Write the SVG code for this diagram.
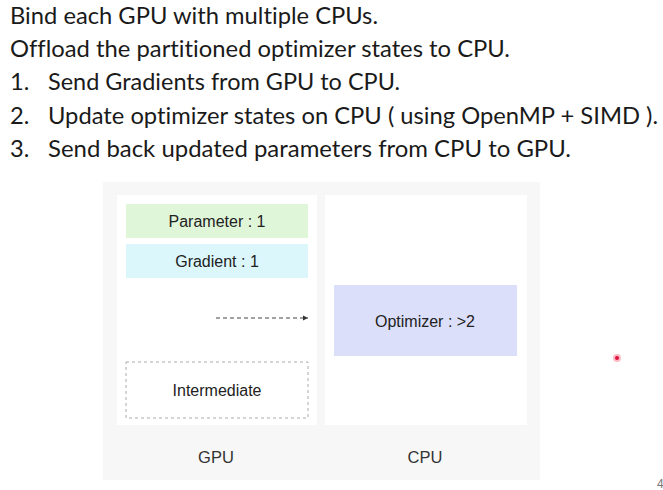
<svg xmlns="http://www.w3.org/2000/svg" width="663" height="490" viewBox="0 0 663 490">
<defs>
<style>
.t{font-family:Lato,"Open Sans","Liberation Sans",sans-serif;font-size:23.7px;fill:#1a1a1a;font-variant-ligatures:none}
.l{font-family:"Liberation Sans",Arial,sans-serif;font-size:16px;fill:#222;text-anchor:middle}
.cap{font-family:"Liberation Sans",Arial,sans-serif;font-size:16.5px;fill:#333;text-anchor:middle}
</style>
<marker id="ah" markerWidth="6" markerHeight="6" refX="5" refY="3" orient="auto" markerUnits="userSpaceOnUse">
<path d="M0,0.5 L5,3 L0,5.5 Z" fill="#333"/>
</marker>
</defs>
<rect width="663" height="490" fill="#ffffff"/>
<g id="title">
<text class="t" x="10" y="23.5" textLength="368" lengthAdjust="spacingAndGlyphs">Bind each GPU with multiple CPUs.</text>
<text class="t" x="10" y="56.5" textLength="500" lengthAdjust="spacingAndGlyphs">Offload the partitioned optimizer states to CPU.</text>
<text class="t" x="10" y="90">1.</text>
<text class="t" x="48" y="90" textLength="352" lengthAdjust="spacingAndGlyphs">Send Gradients from GPU to CPU.</text>
<text class="t" x="10" y="124">2.</text>
<text class="t" x="48" y="124" textLength="610" lengthAdjust="spacingAndGlyphs">Update optimizer states on CPU ( using OpenMP + SIMD ).</text>
<text class="t" x="10" y="157">3.</text>
<text class="t" x="48" y="157" textLength="523" lengthAdjust="spacingAndGlyphs">Send back updated parameters from CPU to GPU.</text>
</g>
<g id="panel">
<rect x="103" y="182" width="437" height="298" fill="#f7f7f7"/>
</g>
<g id="gpu">
<rect x="117" y="195" width="200" height="230" fill="#ffffff"/>
<text class="cap" x="216" y="463">GPU</text>
</g>
<g id="cpu">
<rect x="325" y="195" width="202" height="230" fill="#ffffff"/>
<text class="cap" x="425" y="463">CPU</text>
</g>
<g id="parameter">
<rect x="126" y="204" width="182" height="34" fill="#e0f6d9"/>
<text class="l" x="217" y="227">Parameter : 1</text>
</g>
<g id="gradient">
<rect x="126" y="244" width="182" height="34" fill="#dbf7fc"/>
<text class="l" x="217" y="267">Gradient : 1</text>
</g>
<g id="optimizer">
<rect x="334" y="285" width="183" height="71" fill="#dcdffa"/>
<text class="l" x="425" y="327">Optimizer : &gt;2</text>
</g>
<g id="intermediate">
<rect x="126" y="362" width="182" height="56" fill="none" stroke="#aaa" stroke-width="1" stroke-dasharray="3,3"/>
<text class="l" x="217" y="396">Intermediate</text>
</g>
<g id="connectors">
<line x1="216" y1="318" x2="308" y2="318" stroke="#444" stroke-width="1" stroke-dasharray="4,3" marker-end="url(#ah)"/>
</g>
<g id="pointer">
<circle cx="617" cy="358" r="4" fill="#ff3b5c" opacity="0.35"/>
<circle cx="617" cy="358" r="2" fill="#e0103a"/>
</g>
<text x="657" y="488" font-family="Liberation Sans,Arial,sans-serif" font-size="12" fill="#777">4</text>
</svg>
